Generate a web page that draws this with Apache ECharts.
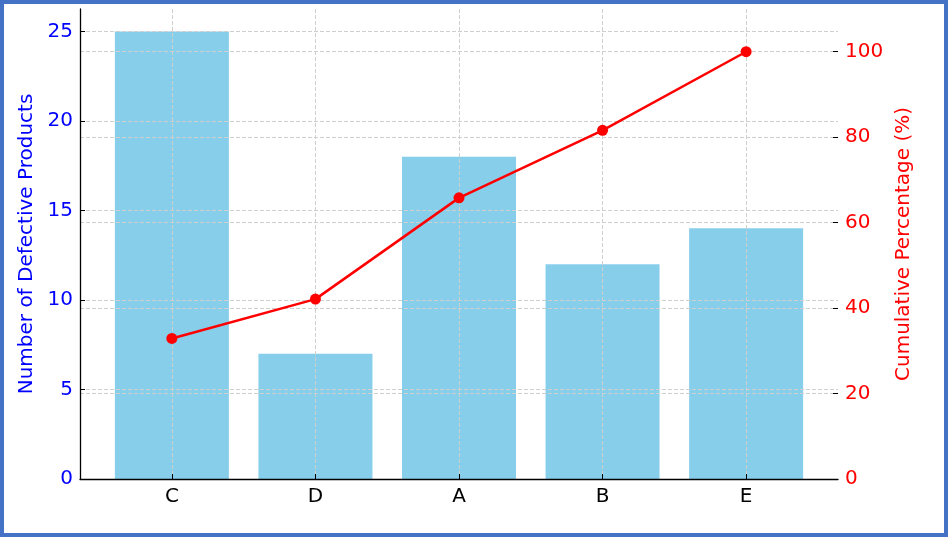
<!DOCTYPE html>
<html>
<head>
<meta charset="utf-8">
<script src="https://cdn.jsdelivr.net/npm/echarts@6/dist/echarts.min.js"></script>
<style>
  html, body { margin: 0; padding: 0; background: #fff; }
  #chart { position: absolute; left: 0; top: 0; width: 950px; height: 538px; }
  #frame { position: absolute; left: 0; top: 0; width: 948px; height: 537px;
           box-sizing: border-box; border: 4px solid #4472C4; pointer-events: none; }
</style>
</head>
<body>
<div id="chart"></div>
<div id="frame"></div>
<script>
// data
var categories = ['C', 'D', 'A', 'B', 'E'];
var defects = [25, 7, 18, 12, 14];
var cumulativePct = [32.9, 42.1, 65.8, 81.6, 100.0];
var leftTicks = [0, 5, 10, 15, 20, 25];
var rightTicks = [0, 20, 40, 60, 80, 100];

var chart = echarts.init(document.getElementById('chart'));

var idx = categories.map(function (c, i) { return i; });
var barData = defects.map(function (v, i) { return [i, v]; });
var lineData = cumulativePct.map(function (v, i) { return [i, v]; });

var gridLine = { show: true, lineStyle: { color: '#cfcfcf', width: 1, type: [4, 2] } };
var font = 'DejaVu Sans';

var option = {
    animation: false,
    grid: { left: 80, right: 112, top: 9, bottom: 59 },
    xAxis: {
        type: 'value',
        min: -0.64,
        max: 4.64,
        z: 2,
        axisLine: { show: true, onZero: false, lineStyle: { color: '#000', width: 1.3 } },
        axisTick: { show: true, inside: true, length: 5, customValues: idx, lineStyle: { color: '#000' } },
        axisLabel: {
            customValues: idx,
            margin: 8,
            color: '#000',
            fontSize: 20,
            fontFamily: font,
            formatter: function (v) { return categories[Math.round(v)]; }
        },
        splitLine: gridLine
    },
    yAxis: [
        {
            type: 'value',
            min: 0,
            max: 26.25,
            position: 'left',
            z: 2,
            name: 'Number of Defective Products',
            nameLocation: 'middle',
            nameGap: 40,
            nameTextStyle: { color: '#0000ff', fontSize: 20, fontFamily: font },
            axisLine: { show: true, onZero: false, lineStyle: { color: '#000', width: 1.3 } },
            axisTick: { show: true, inside: true, length: 5, customValues: leftTicks, lineStyle: { color: '#000' } },
            axisLabel: { customValues: leftTicks, margin: 7, color: '#0000ff', fontSize: 20, fontFamily: font },
            splitLine: gridLine
        },
        {
            type: 'value',
            min: 0,
            max: 110,
            position: 'right',
            z: 2,
            name: 'Cumulative Percentage (%)',
            nameLocation: 'middle',
            nameRotate: 90,
            nameGap: 50,
            nameTextStyle: { color: '#ff0000', fontSize: 20, fontFamily: font },
            axisLine: { show: false, onZero: false },
            axisTick: { show: true, inside: true, length: 5, customValues: rightTicks, lineStyle: { color: '#000' } },
            axisLabel: { customValues: rightTicks, margin: 7, color: '#ff0000', fontSize: 20, fontFamily: font },
            splitLine: gridLine
        }
    ],
    series: [
        {
            type: 'bar',
            name: 'Defects',
            data: barData,
            yAxisIndex: 0,
            barWidth: 114,
            z: 1,
            itemStyle: { color: '#87CEEB' }
        },
        {
            type: 'line',
            name: 'Cumulative',
            data: lineData,
            yAxisIndex: 1,
            z: 3,
            symbol: 'circle',
            symbolSize: 11,
            lineStyle: { color: '#ff0000', width: 2.5 },
            itemStyle: { color: '#ff0000' }
        }
    ]
};

chart.setOption(option);
</script>
</body>
</html>
